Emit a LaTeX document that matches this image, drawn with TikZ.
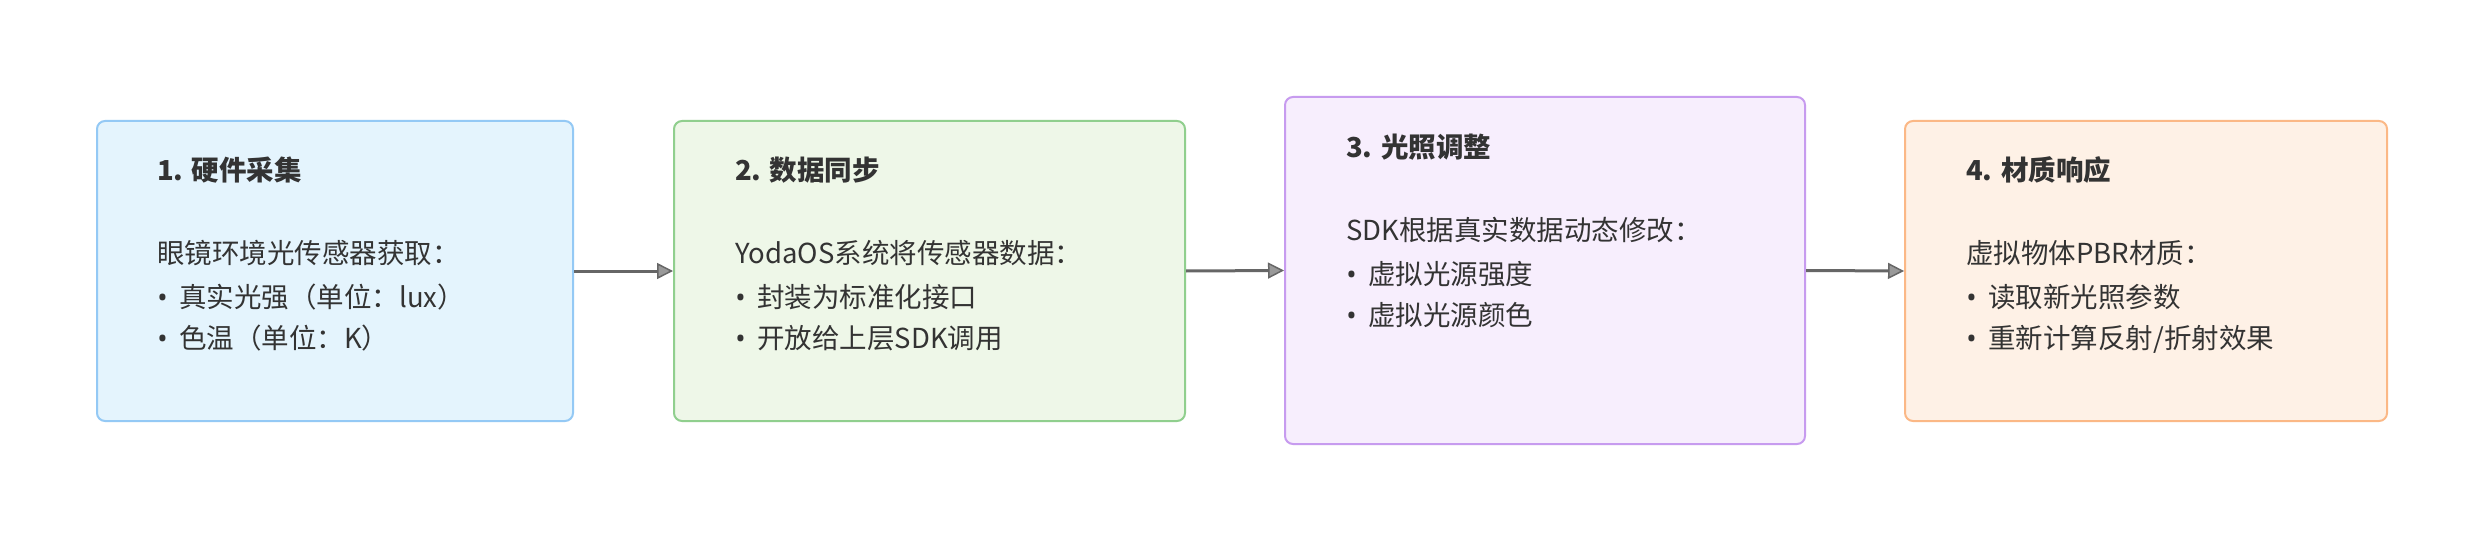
\documentclass[tikz,border=0pt]{standalone}
\usepackage{fontspec}
\setmainfont{Noto Sans CJK SC}
\newfontfamily\bulfont{Noto Sans}
\usetikzlibrary{arrows.meta}
\definecolor{txt}{HTML}{333333}
\definecolor{fillA}{HTML}{E4F4FD}
\definecolor{drawA}{HTML}{94C9F5}
\definecolor{fillB}{HTML}{EEF7E8}
\definecolor{drawB}{HTML}{90CF8E}
\definecolor{fillC}{HTML}{F7EEFD}
\definecolor{drawC}{HTML}{C79BEF}
\definecolor{fillD}{HTML}{FEF1E6}
\definecolor{drawD}{HTML}{FBB886}
\definecolor{arr}{HTML}{666666}
\definecolor{arrfill}{HTML}{999999}
\tikzset{
  stagebox/.style={rectangle, rounded corners=8pt, line width=2pt, anchor=north west, inner sep=0pt},
  ln/.style={anchor=base west, inner sep=0pt, text=txt, font=\fontsize{27.5}{42}\selectfont},
  ttl/.style={ln, font=\fontsize{27.5}{42}\selectfont\bfseries},
  bul/.style={anchor=base, inner sep=0pt, text=txt, font=\fontsize{27.5}{42}\selectfont\bulfont},
  flow/.style={draw=arr, line width=3pt, -{Triangle[length=16pt,width=16pt,line width=1.5pt,fill=arrfill]}}
}
\begin{document}
\begin{tikzpicture}[x=1pt,y=-1pt]
\useasboundingbox (0,0) rectangle (2483,540);
\fill[white] (0,0) rectangle (2483,540);

% boxes
\node[stagebox, fill=fillA, draw=drawA, minimum width=476pt, minimum height=300pt] (b1) at (96,120) {};
\node[stagebox, fill=fillB, draw=drawB, minimum width=511pt, minimum height=300pt] (b2) at (673,120) {};
\node[stagebox, fill=fillC, draw=drawC, minimum width=520pt, minimum height=347pt] (b3) at (1284,96) {};
\node[stagebox, fill=fillD, draw=drawD, minimum width=482pt, minimum height=300pt] (b4) at (1904,120) {};

% box 1 text
\node[ttl] (t1) at (157,180.5) {1. 硬件采集};
\node[ln] (t1a) at (157,263.5) {眼镜环境光传感器获取：};
\node[bul] (t1bb) at (162.5,307.5) {•};
\node[ln] (t1b) at (179,307.5) {真实光强（单位：lux）};
\node[bul] (t1cb) at (162.5,348.5) {•};
\node[ln] (t1c) at (179,348.5) {色温（单位：K）};

% box 2 text
\node[ttl] (t2) at (735,180.5) {2. 数据同步};
\node[ln] (t2a) at (735,263.5) {YodaOS系统将传感器数据：};
\node[bul] (t2bb) at (740.5,307.5) {•};
\node[ln] (t2b) at (757,307.5) {封装为标准化接口};
\node[bul] (t2cb) at (740.5,348.5) {•};
\node[ln] (t2c) at (757,348.5) {开放给上层SDK调用};

% box 3 text
\node[ttl] (t3) at (1346,157.5) {3. 光照调整};
\node[ln] (t3a) at (1346,240.5) {SDK根据真实数据动态修改：};
\node[bul] (t3bb) at (1351.5,284.5) {•};
\node[ln] (t3b) at (1368,284.5) {虚拟光源强度};
\node[bul] (t3cb) at (1351.5,325.5) {•};
\node[ln] (t3c) at (1368,325.5) {虚拟光源颜色};

% box 4 text
\node[ttl] (t4) at (1966,180.5) {4. 材质响应};
\node[ln] (t4a) at (1966,263.5) {虚拟物体PBR材质：};
\node[bul] (t4bb) at (1971.5,307.5) {•};
\node[ln] (t4b) at (1988,307.5) {读取新光照参数};
\node[bul] (t4cb) at (1971.5,348.5) {•};
\node[ln] (t4c) at (1988,348.5) {重新计算反射/折射效果};

% connectors
\draw[flow] (b1.east) -- (b2.west);
\draw[flow] (b2.east) -- (b3.west);
\draw[flow] (b3.east) -- (b4.west);
\end{tikzpicture}
\end{document}
